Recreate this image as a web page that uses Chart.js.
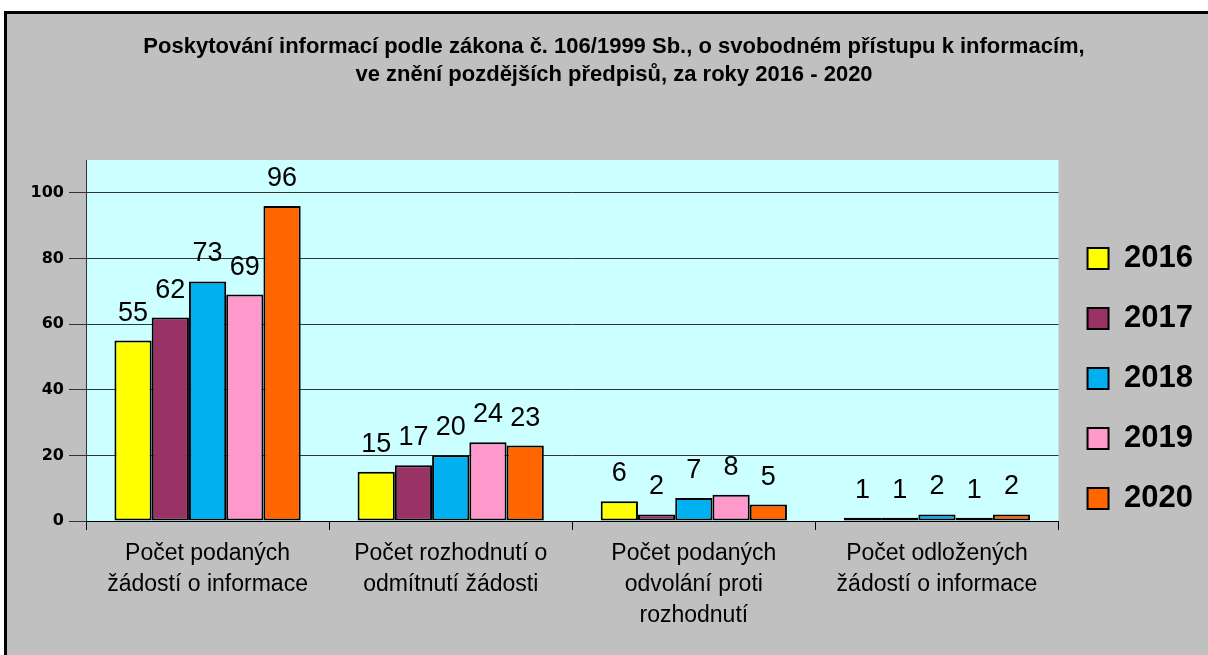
<!DOCTYPE html>
<html>
<head>
<meta charset="utf-8">
<script src="https://cdn.jsdelivr.net/npm/chart.js@4.4.0/dist/chart.umd.min.js"></script>
<style>
    html, body { margin: 0; padding: 0; background: #ffffff; }
    #frame {
        position: absolute; left: 4px; top: 11px;
        width: 1204px; height: 644px; box-sizing: border-box;
        border-left: 3px solid #000; border-top: 3px solid #000;
        background: #c0c0c0;
    }
    #chart { display: block; }
</style>
</head>
<body>
<div id="frame"><canvas id="chart" width="1201" height="641"></canvas></div>
<script>
const categories = [
    ['Počet podaných', 'žádostí o informace'],
    ['Počet rozhodnutí o', 'odmítnutí žádosti'],
    ['Počet podaných', 'odvolání proti', 'rozhodnutí'],
    ['Počet odložených', 'žádostí o informace']
];
const years = ['2016', '2017', '2018', '2019', '2020'];
const values2016 = [55, 15, 6, 1];
const values2017 = [62, 17, 2, 1];
const values2018 = [73, 20, 7, 2];
const values2019 = [69, 24, 8, 1];
const values2020 = [96, 23, 5, 2];
const yMax = 110;
const yStep = 20;

const seriesValues = [values2016, values2017, values2018, values2019, values2020];
const seriesColors = ['#ffff00', '#993366', '#00b0f0', '#ff99cc', '#ff6600'];

// light cyan plot area
const plotBackground = {
    id: 'plotBackground',
    beforeDraw(chart) {
        const { ctx, chartArea } = chart;
        ctx.save();
        ctx.fillStyle = '#ccffff';
        ctx.fillRect(chartArea.left, chartArea.top, chartArea.right - chartArea.left, chartArea.bottom - chartArea.top);
        ctx.restore();
    }
};

// numbers above the bars
const valueLabels = {
    id: 'valueLabels',
    afterDatasetsDraw(chart) {
        const ctx = chart.ctx;
        ctx.save();
        ctx.font = '27px "Liberation Sans", Arial, sans-serif';
        ctx.fillStyle = '#000';
        ctx.textAlign = 'center';
        ctx.textBaseline = 'alphabetic';
        chart.data.datasets.forEach((ds, i) => {
            chart.getDatasetMeta(i).data.forEach((bar, j) => {
                ctx.fillText(String(ds.data[j]), bar.x, bar.y - 20);
            });
        });
        ctx.restore();
    }
};

// push the legend column down a bit, like the original
const legendOffset = {
    id: 'legendOffset',
    afterLayout(chart) {
        chart.legend.top += 44;
        chart.legend.bottom += 44;
    }
};

const ctx = document.getElementById('chart').getContext('2d');

new Chart(ctx, {
    type: 'bar',
    data: {
        labels: categories,
        datasets: years.map((year, i) => ({
            label: year,
            data: seriesValues[i],
            backgroundColor: seriesColors[i],
            borderColor: '#000',
            borderWidth: 2,
            borderSkipped: false,
            categoryPercentage: 0.766,
            barPercentage: 1
        }))
    },
    options: {
        responsive: false,
        animation: false,
        layout: {
            padding: { left: 18, right: 5, top: 0, bottom: 0 }
        },
        scales: {
            x: {
                grid: {
                    offset: true,
                    drawOnChartArea: false,
                    tickLength: 9,
                    color: '#000'
                },
                border: { color: '#000', width: 1 },
                ticks: {
                    padding: 8,
                    color: '#000',
                    maxRotation: 0,
                    font: { family: '"Liberation Sans", Arial, sans-serif', size: 23, lineHeight: '31px' }
                },
                afterFit: function(scale) {
                    scale.height = 134;
                }
            },
            y: {
                min: 0,
                max: yMax,
                grid: {
                    color: '#333',
                    lineWidth: 1,
                    tickLength: 17
                },
                border: { color: '#333', width: 1 },
                ticks: {
                    stepSize: yStep,
                    padding: 5,
                    color: '#000',
                    font: { family: '"DejaVu Sans", sans-serif', size: 16, weight: 'bold' },
                    callback: function(value) {
                        return value % yStep === 0 ? value : null;
                    }
                },
                afterFit: function(scale) {
                    scale.width = 61;
                }
            }
        },
        plugins: {
            title: {
                display: true,
                text: [
                    'Poskytování informací podle zákona č. 106/1999 Sb., o svobodném přístupu k informacím,',
                    've znění pozdějších předpisů, za roky 2016 - 2020'
                ],
                color: '#000',
                font: { family: '"Liberation Sans", Arial, sans-serif', size: 22, weight: 'bold', lineHeight: '28px' },
                padding: { top: 19, bottom: 71 }
            },
            legend: {
                position: 'right',
                labels: {
                    boxWidth: 21,
                    boxHeight: 21,
                    padding: 29,
                    color: '#000',
                    font: { family: '"Liberation Sans", Arial, sans-serif', size: 31, weight: 'bold' }
                }
            },
            tooltip: { enabled: false }
        }
    },
    plugins: [plotBackground, valueLabels, legendOffset]
});
</script>
</body>
</html>
